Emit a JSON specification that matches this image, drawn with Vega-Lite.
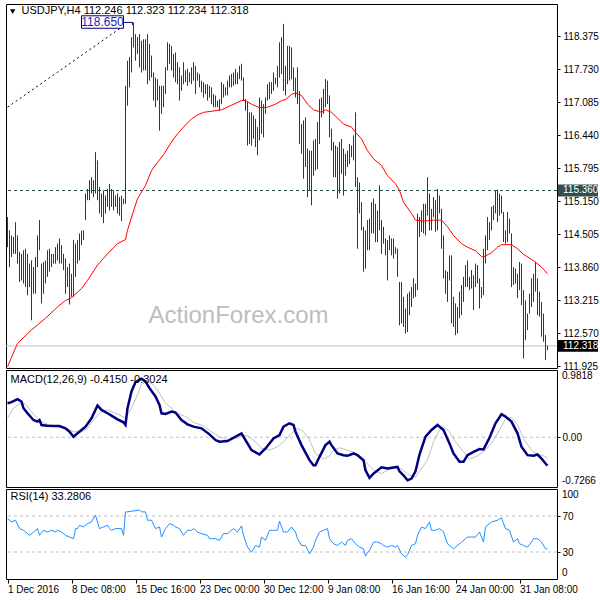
{
"$schema": "https://vega.github.io/schema/vega-lite/v6.json",
"background": "white",
"padding": {"left": 2, "top": 3, "right": 5, "bottom": 3},
"spacing": 2,
"bounds": "flush",
"config": {
  "view": {"stroke": "#000000", "strokeWidth": 1},
  "axis": {"labelFont": "Liberation Sans", "labelFontSize": 10, "labelColor": "#000000", "tickColor": "#000000", "domain": false, "grid": false, "labelOverlap": false, "labelBound": false, "labelFlush": false, "tickSize": 3, "labelPadding": 3, "labelSeparation": 0},
  "text": {"font": "Liberation Sans"}
},
"resolve": {"scale": {"x": "independent", "y": "independent"}},
"datasets": {
  "bars": [{"i":0,"h":114.84,"l":114.25},{"i":1,"h":114.58,"l":113.86},{"i":2,"h":114.48,"l":114.06},{"i":3,"h":114.45,"l":114.12},{"i":4,"h":114.74,"l":114.12},{"i":5,"h":114.48,"l":113.93},{"i":6,"h":114.16,"l":113.57},{"i":7,"h":114.12,"l":113.60},{"i":8,"h":114.19,"l":113.54},{"i":9,"h":114.22,"l":113.47},{"i":10,"h":114.12,"l":113.31},{"i":11,"h":113.93,"l":113.47},{"i":12,"h":113.99,"l":112.82},{"i":13,"h":113.86,"l":113.34},{"i":14,"h":114.06,"l":113.34},{"i":15,"h":114.48,"l":113.86},{"i":16,"h":114.78,"l":114.19},{"i":17,"h":113.93,"l":113.15},{"i":18,"h":113.96,"l":113.34},{"i":19,"h":113.99,"l":113.54},{"i":20,"h":114.19,"l":113.67},{"i":21,"h":114.22,"l":113.77},{"i":22,"h":114.12,"l":113.86},{"i":23,"h":114.12,"l":113.93},{"i":24,"h":114.25,"l":113.93},{"i":25,"h":114.32,"l":113.99},{"i":26,"h":114.42,"l":113.93},{"i":27,"h":114.29,"l":113.93},{"i":28,"h":114.12,"l":113.80},{"i":29,"h":114.03,"l":113.34},{"i":30,"h":113.86,"l":113.47},{"i":31,"h":113.93,"l":113.13},{"i":32,"h":113.73,"l":113.28},{"i":33,"h":114.39,"l":113.28},{"i":34,"h":114.32,"l":113.67},{"i":35,"h":114.39,"l":113.93},{"i":36,"h":114.52,"l":113.99},{"i":37,"h":114.58,"l":114.29},{"i":38,"h":114.58,"l":114.39},{"i":39,"h":115.30,"l":114.78},{"i":40,"h":115.39,"l":115.17},{"i":41,"h":115.56,"l":115.17},{"i":42,"h":115.62,"l":115.30},{"i":43,"h":115.56,"l":115.23},{"i":44,"h":116.11,"l":115.30},{"i":45,"h":115.95,"l":115.17},{"i":46,"h":115.43,"l":114.91},{"i":47,"h":115.30,"l":114.84},{"i":48,"h":115.36,"l":114.72},{"i":49,"h":115.26,"l":114.91},{"i":50,"h":115.39,"l":115.04},{"i":51,"h":115.49,"l":114.97},{"i":52,"h":115.39,"l":115.04},{"i":53,"h":115.36,"l":114.97},{"i":54,"h":115.26,"l":115.04},{"i":55,"h":115.30,"l":114.91},{"i":56,"h":115.23,"l":114.87},{"i":57,"h":115.26,"l":114.76},{"i":58,"h":115.20,"l":115.09},{"i":59,"h":117.41,"l":115.10},{"i":60,"h":117.90,"l":117.02},{"i":61,"h":117.97,"l":117.38},{"i":62,"h":118.36,"l":117.67},{"i":63,"h":118.65,"l":118.16},{"i":64,"h":118.42,"l":117.90},{"i":65,"h":118.36,"l":118.03},{"i":66,"h":118.42,"l":117.77},{"i":67,"h":118.29,"l":117.67},{"i":68,"h":118.32,"l":117.71},{"i":69,"h":118.32,"l":117.71},{"i":70,"h":118.42,"l":117.44},{"i":71,"h":118.23,"l":117.51},{"i":72,"h":118.00,"l":117.57},{"i":73,"h":117.67,"l":117.12},{"i":74,"h":117.57,"l":116.99},{"i":75,"h":117.54,"l":117.12},{"i":76,"h":117.41,"l":116.53},{"i":77,"h":117.41,"l":116.86},{"i":78,"h":117.41,"l":116.99},{"i":79,"h":117.77,"l":117.25},{"i":80,"h":118.26,"l":117.71},{"i":81,"h":118.23,"l":117.84},{"i":82,"h":118.19,"l":117.71},{"i":83,"h":118.03,"l":117.57},{"i":84,"h":118.06,"l":117.48},{"i":85,"h":117.87,"l":117.44},{"i":86,"h":117.77,"l":117.12},{"i":87,"h":117.61,"l":117.31},{"i":88,"h":117.87,"l":117.44},{"i":89,"h":117.71,"l":117.48},{"i":90,"h":117.74,"l":117.41},{"i":91,"h":117.67,"l":117.48},{"i":92,"h":117.77,"l":117.44},{"i":93,"h":117.87,"l":117.51},{"i":94,"h":117.80,"l":117.25},{"i":95,"h":117.67,"l":117.51},{"i":96,"h":117.64,"l":117.38},{"i":97,"h":117.51,"l":117.28},{"i":98,"h":117.48,"l":117.18},{"i":99,"h":117.44,"l":117.25},{"i":100,"h":117.44,"l":117.12},{"i":101,"h":117.41,"l":117.18},{"i":102,"h":117.38,"l":117.05},{"i":103,"h":117.25,"l":116.99},{"i":104,"h":117.22,"l":116.99},{"i":105,"h":117.12,"l":116.99},{"i":106,"h":117.15,"l":116.92},{"i":107,"h":117.48,"l":117.05},{"i":108,"h":117.44,"l":117.18},{"i":109,"h":117.38,"l":117.22},{"i":110,"h":117.51,"l":117.22},{"i":111,"h":117.61,"l":117.38},{"i":112,"h":117.64,"l":117.38},{"i":113,"h":117.67,"l":117.41},{"i":114,"h":117.74,"l":117.44},{"i":115,"h":117.67,"l":117.44},{"i":116,"h":117.80,"l":117.54},{"i":117,"h":117.84,"l":117.51},{"i":118,"h":117.57,"l":117.12},{"i":119,"h":117.15,"l":116.92},{"i":120,"h":117.09,"l":116.24},{"i":121,"h":116.89,"l":116.27},{"i":122,"h":116.89,"l":116.24},{"i":123,"h":116.83,"l":116.37},{"i":124,"h":116.76,"l":116.21},{"i":125,"h":116.60,"l":116.05},{"i":126,"h":117.18,"l":116.34},{"i":127,"h":117.12,"l":116.47},{"i":128,"h":117.05,"l":116.40},{"i":129,"h":117.18,"l":116.86},{"i":130,"h":117.44,"l":117.12},{"i":131,"h":117.48,"l":117.15},{"i":132,"h":117.48,"l":117.25},{"i":133,"h":117.67,"l":117.31},{"i":134,"h":117.57,"l":117.44},{"i":135,"h":117.80,"l":117.38},{"i":136,"h":118.26,"l":117.57},{"i":137,"h":118.36,"l":117.64},{"i":138,"h":118.62,"l":117.31},{"i":139,"h":117.80,"l":117.22},{"i":140,"h":118.19,"l":117.44},{"i":141,"h":118.19,"l":117.51},{"i":142,"h":118.16,"l":117.54},{"i":143,"h":117.77,"l":117.31},{"i":144,"h":117.57,"l":117.18},{"i":145,"h":117.77,"l":117.05},{"i":146,"h":117.31,"l":116.27},{"i":147,"h":116.66,"l":116.08},{"i":148,"h":116.73,"l":115.59},{"i":149,"h":116.79,"l":115.82},{"i":150,"h":116.18,"l":115.23},{"i":151,"h":116.14,"l":115.36},{"i":152,"h":116.14,"l":115.07},{"i":153,"h":116.34,"l":115.65},{"i":154,"h":116.37,"l":115.75},{"i":155,"h":116.70,"l":115.78},{"i":156,"h":117.15,"l":116.27},{"i":157,"h":117.18,"l":116.79},{"i":158,"h":117.35,"l":116.86},{"i":159,"h":117.54,"l":116.99},{"i":160,"h":117.51,"l":117.05},{"i":161,"h":117.22,"l":116.40},{"i":162,"h":116.57,"l":116.14},{"i":163,"h":116.31,"l":115.62},{"i":164,"h":116.24,"l":115.62},{"i":165,"h":116.21,"l":115.20},{"i":166,"h":116.31,"l":115.30},{"i":167,"h":116.37,"l":115.69},{"i":168,"h":116.18,"l":115.26},{"i":169,"h":116.08,"l":115.65},{"i":170,"h":116.14,"l":115.82},{"i":171,"h":116.27,"l":115.88},{"i":172,"h":116.24,"l":116.01},{"i":173,"h":116.44,"l":115.95},{"i":174,"h":116.89,"l":115.43},{"i":175,"h":115.62,"l":114.22},{"i":176,"h":115.52,"l":114.91},{"i":177,"h":115.13,"l":114.58},{"i":178,"h":114.65,"l":113.77},{"i":179,"h":114.58,"l":113.83},{"i":180,"h":114.78,"l":114.19},{"i":181,"h":114.81,"l":114.19},{"i":182,"h":115.13,"l":114.52},{"i":183,"h":115.20,"l":114.52},{"i":184,"h":115.10,"l":114.35},{"i":185,"h":114.97,"l":114.35},{"i":186,"h":115.46,"l":114.58},{"i":187,"h":114.78,"l":114.12},{"i":188,"h":114.65,"l":114.32},{"i":189,"h":114.42,"l":114.09},{"i":190,"h":114.39,"l":113.60},{"i":191,"h":114.48,"l":114.19},{"i":192,"h":114.42,"l":114.09},{"i":193,"h":114.42,"l":114.03},{"i":194,"h":114.25,"l":114.12},{"i":195,"h":114.22,"l":113.67},{"i":196,"h":113.57,"l":112.72},{"i":197,"h":113.57,"l":112.76},{"i":198,"h":113.28,"l":112.69},{"i":199,"h":113.05,"l":112.56},{"i":200,"h":113.34,"l":112.59},{"i":201,"h":113.38,"l":112.92},{"i":202,"h":113.47,"l":113.08},{"i":203,"h":113.64,"l":113.25},{"i":204,"h":113.54,"l":113.28},{"i":205,"h":114.91,"l":113.41},{"i":206,"h":114.84,"l":114.45},{"i":207,"h":114.97,"l":114.55},{"i":208,"h":115.10,"l":114.52},{"i":209,"h":115.10,"l":114.48},{"i":210,"h":115.62,"l":114.87},{"i":211,"h":115.30,"l":114.58},{"i":212,"h":115.00,"l":114.58},{"i":213,"h":115.23,"l":114.84},{"i":214,"h":115.17,"l":114.55},{"i":215,"h":115.39,"l":114.58},{"i":216,"h":115.26,"l":114.91},{"i":217,"h":115.00,"l":114.22},{"i":218,"h":114.48,"l":113.64},{"i":219,"h":113.80,"l":113.34},{"i":220,"h":113.77,"l":113.18},{"i":221,"h":114.09,"l":113.60},{"i":222,"h":114.09,"l":112.76},{"i":223,"h":113.28,"l":112.69},{"i":224,"h":113.15,"l":112.53},{"i":225,"h":113.08,"l":112.56},{"i":226,"h":113.38,"l":112.86},{"i":227,"h":113.51,"l":112.92},{"i":228,"h":113.67,"l":113.18},{"i":229,"h":113.90,"l":113.47},{"i":230,"h":113.99,"l":113.47},{"i":231,"h":113.67,"l":113.41},{"i":232,"h":113.80,"l":113.44},{"i":233,"h":113.70,"l":113.02},{"i":234,"h":113.93,"l":113.47},{"i":235,"h":113.90,"l":113.54},{"i":236,"h":113.64,"l":113.05},{"i":237,"h":113.47,"l":113.25},{"i":238,"h":114.22,"l":113.31},{"i":239,"h":114.48,"l":113.93},{"i":240,"h":114.84,"l":114.19},{"i":241,"h":114.74,"l":114.39},{"i":242,"h":115.04,"l":114.58},{"i":243,"h":115.07,"l":114.78},{"i":244,"h":115.36,"l":114.91},{"i":245,"h":115.38,"l":114.74},{"i":246,"h":115.30,"l":114.87},{"i":247,"h":115.26,"l":114.91},{"i":248,"h":114.94,"l":114.35},{"i":249,"h":114.58,"l":114.32},{"i":250,"h":114.94,"l":114.35},{"i":251,"h":114.81,"l":114.52},{"i":252,"h":114.52,"l":113.47},{"i":253,"h":113.86,"l":113.51},{"i":254,"h":113.83,"l":113.54},{"i":255,"h":113.73,"l":113.25},{"i":256,"h":113.96,"l":113.41},{"i":257,"h":113.93,"l":113.12},{"i":258,"h":113.41,"l":112.07},{"i":259,"h":113.21,"l":112.43},{"i":260,"h":112.95,"l":112.63},{"i":261,"h":113.34,"l":112.95},{"i":262,"h":113.64,"l":113.08},{"i":263,"h":113.73,"l":113.18},{"i":264,"h":113.96,"l":113.38},{"i":265,"h":113.64,"l":112.92},{"i":266,"h":113.38,"l":112.89},{"i":267,"h":113.18,"l":112.50},{"i":268,"h":112.95,"l":112.40},{"i":269,"h":112.53,"l":112.04},{"i":270,"h":112.323,"l":112.234}],
  "ma": [{"i":0,"v":111.91},{"i":5,"v":112.37},{"i":12,"v":112.63},{"i":19,"v":112.86},{"i":25,"v":113.08},{"i":29,"v":113.21},{"i":32,"v":113.26},{"i":37,"v":113.44},{"i":40,"v":113.60},{"i":45,"v":113.90},{"i":50,"v":114.12},{"i":55,"v":114.32},{"i":59,"v":114.40},{"i":60,"v":114.58},{"i":62,"v":114.84},{"i":65,"v":115.20},{"i":69,"v":115.46},{"i":72,"v":115.75},{"i":75,"v":115.91},{"i":78,"v":116.06},{"i":82,"v":116.31},{"i":85,"v":116.47},{"i":88,"v":116.60},{"i":92,"v":116.76},{"i":95,"v":116.84},{"i":98,"v":116.89},{"i":102,"v":116.91},{"i":107,"v":116.94},{"i":112,"v":117.03},{"i":117,"v":117.12},{"i":119,"v":117.12},{"i":122,"v":117.05},{"i":126,"v":116.98},{"i":130,"v":116.99},{"i":134,"v":117.05},{"i":137,"v":117.12},{"i":139,"v":117.14},{"i":142,"v":117.24},{"i":144,"v":117.27},{"i":147,"v":117.22},{"i":150,"v":117.05},{"i":153,"v":116.94},{"i":157,"v":116.89},{"i":159,"v":116.94},{"i":162,"v":116.89},{"i":165,"v":116.78},{"i":168,"v":116.66},{"i":172,"v":116.60},{"i":174,"v":116.50},{"i":177,"v":116.37},{"i":180,"v":116.14},{"i":183,"v":115.98},{"i":187,"v":115.85},{"i":190,"v":115.65},{"i":194,"v":115.49},{"i":196,"v":115.36},{"i":198,"v":115.13},{"i":202,"v":114.91},{"i":204,"v":114.78},{"i":208,"v":114.76},{"i":213,"v":114.78},{"i":217,"v":114.78},{"i":220,"v":114.65},{"i":223,"v":114.48},{"i":227,"v":114.32},{"i":230,"v":114.25},{"i":234,"v":114.18},{"i":237,"v":114.07},{"i":238,"v":114.06},{"i":242,"v":114.14},{"i":245,"v":114.25},{"i":247,"v":114.30},{"i":252,"v":114.30},{"i":255,"v":114.22},{"i":258,"v":114.11},{"i":262,"v":114.01},{"i":264,"v":113.96},{"i":267,"v":113.86},{"i":270,"v":113.73}],
  "trend": [{"i":0,"p":116.99},{"i":58,"p":118.58}],
  "levels": [{"p":112.318,"kind":"last","label":"112.318"},{"p":115.36,"kind":"sr","label":"115.360"}],
  "macd": [{"i":0,"m":0.497},{"i":2,"m":0.512},{"i":5,"m":0.556},{"i":7,"m":0.522},{"i":8,"m":0.424},{"i":10,"m":0.350},{"i":13,"m":0.252},{"i":15,"m":0.228},{"i":16,"m":0.252},{"i":17,"m":0.179},{"i":20,"m":0.169},{"i":24,"m":0.164},{"i":26,"m":0.164},{"i":29,"m":0.130},{"i":31,"m":0.081},{"i":33,"m":0.008},{"i":34,"m":0.032},{"i":37,"m":0.106},{"i":39,"m":0.155},{"i":42,"m":0.277},{"i":45,"m":0.463},{"i":47,"m":0.399},{"i":50,"m":0.350},{"i":52,"m":0.316},{"i":55,"m":0.262},{"i":58,"m":0.218},{"i":59,"m":0.179},{"i":60,"m":0.424},{"i":62,"m":0.669},{"i":64,"m":0.806},{"i":67,"m":0.855},{"i":69,"m":0.815},{"i":71,"m":0.717},{"i":74,"m":0.595},{"i":76,"m":0.473},{"i":77,"m":0.350},{"i":79,"m":0.341},{"i":82,"m":0.375},{"i":84,"m":0.360},{"i":87,"m":0.252},{"i":90,"m":0.189},{"i":93,"m":0.155},{"i":97,"m":0.130},{"i":101,"m":0.042},{"i":104,"m":-0.041},{"i":106,"m":-0.066},{"i":110,"m":-0.056},{"i":113,"m":-0.007},{"i":117,"m":0.057},{"i":119,"m":-0.041},{"i":122,"m":-0.188},{"i":126,"m":-0.252},{"i":129,"m":-0.164},{"i":133,"m":-0.017},{"i":136,"m":0.032},{"i":138,"m":0.155},{"i":141,"m":0.204},{"i":143,"m":0.179},{"i":144,"m":0.081},{"i":147,"m":-0.115},{"i":151,"m":-0.335},{"i":153,"m":-0.408},{"i":154,"m":-0.408},{"i":156,"m":-0.286},{"i":159,"m":-0.115},{"i":161,"m":-0.066},{"i":162,"m":-0.115},{"i":165,"m":-0.237},{"i":168,"m":-0.262},{"i":170,"m":-0.271},{"i":173,"m":-0.237},{"i":175,"m":-0.262},{"i":178,"m":-0.335},{"i":179,"m":-0.482},{"i":181,"m":-0.594},{"i":183,"m":-0.531},{"i":187,"m":-0.438},{"i":190,"m":-0.457},{"i":193,"m":-0.443},{"i":195,"m":-0.433},{"i":196,"m":-0.497},{"i":198,"m":-0.555},{"i":200,"m":-0.629},{"i":202,"m":-0.604},{"i":204,"m":-0.497},{"i":206,"m":-0.252},{"i":209,"m":0.008},{"i":212,"m":0.106},{"i":215,"m":0.179},{"i":218,"m":0.106},{"i":221,"m":-0.090},{"i":223,"m":-0.237},{"i":226,"m":-0.359},{"i":228,"m":-0.359},{"i":230,"m":-0.262},{"i":233,"m":-0.213},{"i":236,"m":-0.173},{"i":238,"m":-0.178},{"i":241,"m":-0.007},{"i":244,"m":0.204},{"i":247,"m":0.336},{"i":249,"m":0.302},{"i":252,"m":0.228},{"i":255,"m":0.057},{"i":257,"m":-0.139},{"i":260,"m":-0.262},{"i":263,"m":-0.271},{"i":265,"m":-0.252},{"i":267,"m":-0.311},{"i":269,"m":-0.384},{"i":270,"m":-0.415}],
  "sig": [{"i":0,"s":0.277},{"i":3,"s":0.424},{"i":7,"s":0.512},{"i":9,"s":0.483},{"i":12,"s":0.375},{"i":16,"s":0.238},{"i":20,"s":0.189},{"i":25,"s":0.155},{"i":30,"s":0.120},{"i":33,"s":0.081},{"i":37,"s":0.081},{"i":40,"s":0.130},{"i":43,"s":0.252},{"i":47,"s":0.375},{"i":50,"s":0.399},{"i":53,"s":0.360},{"i":56,"s":0.326},{"i":59,"s":0.277},{"i":62,"s":0.424},{"i":65,"s":0.620},{"i":67,"s":0.776},{"i":70,"s":0.815},{"i":73,"s":0.766},{"i":76,"s":0.644},{"i":79,"s":0.497},{"i":82,"s":0.424},{"i":85,"s":0.350},{"i":89,"s":0.301},{"i":93,"s":0.218},{"i":98,"s":0.164},{"i":102,"s":0.081},{"i":106,"s":0.008},{"i":110,"s":-0.041},{"i":114,"s":-0.017},{"i":118,"s":0.022},{"i":120,"s":0.022},{"i":124,"s":-0.066},{"i":127,"s":-0.164},{"i":131,"s":-0.188},{"i":135,"s":-0.139},{"i":138,"s":-0.066},{"i":142,"s":0.057},{"i":145,"s":0.130},{"i":148,"s":0.081},{"i":151,"s":-0.041},{"i":154,"s":-0.237},{"i":158,"s":-0.320},{"i":161,"s":-0.271},{"i":163,"s":-0.188},{"i":166,"s":-0.154},{"i":170,"s":-0.188},{"i":173,"s":-0.222},{"i":176,"s":-0.271},{"i":179,"s":-0.359},{"i":183,"s":-0.482},{"i":187,"s":-0.531},{"i":190,"s":-0.482},{"i":194,"s":-0.443},{"i":197,"s":-0.467},{"i":201,"s":-0.555},{"i":204,"s":-0.580},{"i":206,"s":-0.497},{"i":210,"s":-0.335},{"i":213,"s":-0.066},{"i":216,"s":0.106},{"i":218,"s":0.155},{"i":221,"s":0.081},{"i":224,"s":-0.066},{"i":228,"s":-0.213},{"i":231,"s":-0.320},{"i":235,"s":-0.271},{"i":238,"s":-0.213},{"i":242,"s":-0.090},{"i":246,"s":0.106},{"i":249,"s":0.267},{"i":252,"s":0.287},{"i":255,"s":0.179},{"i":258,"s":-0.017},{"i":262,"s":-0.188},{"i":265,"s":-0.252},{"i":268,"s":-0.271},{"i":270,"s":-0.302}],
  "rsi": [{"i":0,"r":67.2},{"i":2,"r":63.4},{"i":4,"r":65.3},{"i":6,"r":56.0},{"i":8,"r":54.1},{"i":9,"r":52.2},{"i":11,"r":48.5},{"i":13,"r":52.2},{"i":15,"r":56.0},{"i":16,"r":48.5},{"i":18,"r":54.1},{"i":20,"r":52.2},{"i":22,"r":54.1},{"i":24,"r":52.2},{"i":25,"r":54.1},{"i":27,"r":52.2},{"i":29,"r":48.5},{"i":31,"r":46.6},{"i":33,"r":44.8},{"i":34,"r":56.0},{"i":35,"r":56.0},{"i":36,"r":59.7},{"i":38,"r":57.8},{"i":40,"r":61.6},{"i":42,"r":63.4},{"i":44,"r":70.9},{"i":46,"r":56.0},{"i":48,"r":57.8},{"i":50,"r":59.7},{"i":51,"r":56.0},{"i":52,"r":54.1},{"i":54,"r":56.0},{"i":57,"r":56.0},{"i":58,"r":48.5},{"i":59,"r":74.6},{"i":60,"r":74.6},{"i":63,"r":75.7},{"i":66,"r":76.5},{"i":67,"r":74.6},{"i":69,"r":74.6},{"i":70,"r":65.3},{"i":72,"r":65.3},{"i":74,"r":56.0},{"i":76,"r":57.8},{"i":77,"r":46.6},{"i":79,"r":56.0},{"i":81,"r":61.6},{"i":83,"r":59.7},{"i":84,"r":57.8},{"i":86,"r":56.0},{"i":88,"r":48.5},{"i":90,"r":54.1},{"i":92,"r":54.1},{"i":93,"r":56.0},{"i":95,"r":52.2},{"i":97,"r":50.4},{"i":100,"r":48.5},{"i":101,"r":44.8},{"i":104,"r":44.8},{"i":106,"r":42.9},{"i":108,"r":50.4},{"i":110,"r":50.4},{"i":111,"r":52.2},{"i":113,"r":56.0},{"i":115,"r":52.2},{"i":117,"r":59.0},{"i":118,"r":48.5},{"i":120,"r":35.4},{"i":122,"r":29.8},{"i":124,"r":37.3},{"i":126,"r":35.4},{"i":127,"r":46.6},{"i":129,"r":42.9},{"i":131,"r":54.1},{"i":133,"r":54.1},{"i":135,"r":54.1},{"i":136,"r":64.2},{"i":138,"r":52.2},{"i":140,"r":52.2},{"i":142,"r":57.8},{"i":144,"r":52.2},{"i":145,"r":44.8},{"i":147,"r":37.3},{"i":149,"r":37.3},{"i":151,"r":28.0},{"i":153,"r":35.4},{"i":154,"r":42.9},{"i":156,"r":52.2},{"i":158,"r":54.1},{"i":160,"r":56.0},{"i":161,"r":44.8},{"i":163,"r":39.2},{"i":165,"r":37.3},{"i":167,"r":41.0},{"i":169,"r":37.3},{"i":170,"r":42.9},{"i":172,"r":44.8},{"i":174,"r":39.2},{"i":176,"r":35.4},{"i":178,"r":33.6},{"i":179,"r":25.4},{"i":180,"r":29.8},{"i":181,"r":31.7},{"i":183,"r":41.0},{"i":185,"r":41.0},{"i":187,"r":39.2},{"i":188,"r":37.3},{"i":190,"r":35.4},{"i":192,"r":37.3},{"i":194,"r":35.4},{"i":195,"r":37.3},{"i":197,"r":28.0},{"i":199,"r":24.3},{"i":200,"r":26.9},{"i":202,"r":37.3},{"i":204,"r":39.2},{"i":205,"r":48.5},{"i":207,"r":57.8},{"i":209,"r":56.0},{"i":211,"r":63.4},{"i":212,"r":54.1},{"i":214,"r":54.1},{"i":216,"r":56.0},{"i":218,"r":52.2},{"i":220,"r":39.2},{"i":221,"r":37.3},{"i":223,"r":33.6},{"i":225,"r":37.3},{"i":227,"r":41.0},{"i":229,"r":44.8},{"i":230,"r":46.6},{"i":232,"r":46.6},{"i":234,"r":46.6},{"i":236,"r":52.2},{"i":238,"r":41.0},{"i":239,"r":57.8},{"i":242,"r":63.4},{"i":245,"r":65.3},{"i":247,"r":67.9},{"i":249,"r":56.0},{"i":251,"r":54.1},{"i":253,"r":41.0},{"i":255,"r":44.8},{"i":256,"r":39.2},{"i":258,"r":37.3},{"i":260,"r":35.4},{"i":262,"r":41.0},{"i":263,"r":44.8},{"i":265,"r":44.8},{"i":267,"r":41.0},{"i":269,"r":33.6},{"i":270,"r":33.28}]
},
"vconcat": [
{
  "width": 551, "height": 364,
  "layer": [
    {"data": {"values": [{"t": "ActionForex.com"}]}, "mark": {"type": "text", "font": "Liberation Sans", "fontSize": 24, "color": "#bdbdbd"},
     "encoding": {"x": {"datum": 115.5, "type": "quantitative", "scale": {"domain": [-0.75, 274.75], "nice": false, "zero": false}, "axis": null},
                  "y": {"datum": 112.9, "type": "quantitative", "scale": {"domain": [111.886, 119.01], "nice": false, "zero": false}, "axis": {"orient": "right", "title": null, "values": [111.925, 112.57, 113.215, 113.86, 114.505, 115.15, 115.795, 116.44, 117.085, 117.73, 118.375], "format": ".3f", "labelOverlap": false}},
                  "text": {"field": "t"}}},
    {"data": {"name": "levels"}, "transform": [{"filter": "datum.kind == 'last'"}], "mark": {"type": "rule", "color": "#c0c0c0", "strokeWidth": 1},
     "encoding": {"y": {"field": "p", "type": "quantitative", "scale": {"domain": [111.886, 119.01], "nice": false, "zero": false}, "axis": {"orient": "right", "title": null, "values": [111.925, 112.57, 113.215, 113.86, 114.505, 115.15, 115.795, 116.44, 117.085, 117.73, 118.375], "format": ".3f", "labelOverlap": false}}}},
    {"data": {"name": "levels"}, "transform": [{"filter": "datum.kind == 'sr'"}], "mark": {"type": "rule", "color": "#2f4f4f", "strokeWidth": 1, "strokeDash": [3, 3]},
     "encoding": {"y": {"field": "p", "type": "quantitative", "scale": {"domain": [111.886, 119.01], "nice": false, "zero": false}, "axis": {"orient": "right", "title": null, "values": [111.925, 112.57, 113.215, 113.86, 114.505, 115.15, 115.795, 116.44, 117.085, 117.73, 118.375], "format": ".3f", "labelOverlap": false}}}},
    {"data": {"name": "bars"}, "mark": {"type": "rule", "color": "#1c3d5a", "strokeWidth": 1},
     "encoding": {"x": {"field": "i", "type": "quantitative", "scale": {"domain": [-0.75, 274.75], "nice": false, "zero": false}, "axis": null},
                  "y": {"field": "h", "type": "quantitative", "scale": {"domain": [111.886, 119.01], "nice": false, "zero": false},
                        "axis": {"orient": "right", "title": null, "values": [111.925, 112.57, 113.215, 113.86, 114.505, 115.15, 115.795, 116.44, 117.085, 117.73, 118.375], "format": ".3f", "labelOverlap": false}},
                  "y2": {"field": "l"}}},
    {"data": {"name": "ma"}, "mark": {"type": "line", "color": "#ff0000", "strokeWidth": 1},
     "encoding": {"x": {"field": "i", "type": "quantitative", "scale": {"domain": [-0.75, 274.75], "nice": false, "zero": false}, "axis": null},
                  "y": {"field": "v", "type": "quantitative", "scale": {"domain": [111.886, 119.01], "nice": false, "zero": false}, "axis": {"orient": "right", "title": null, "values": [111.925, 112.57, 113.215, 113.86, 114.505, 115.15, 115.795, 116.44, 117.085, 117.73, 118.375], "format": ".3f", "labelOverlap": false}}}},
    {"data": {"name": "trend"}, "mark": {"type": "line", "color": "#000000", "strokeWidth": 1, "strokeDash": [2, 3]},
     "encoding": {"x": {"field": "i", "type": "quantitative", "scale": {"domain": [-0.75, 274.75], "nice": false, "zero": false}, "axis": null},
                  "y": {"field": "p", "type": "quantitative", "scale": {"domain": [111.886, 119.01], "nice": false, "zero": false}, "axis": {"orient": "right", "title": null, "values": [111.925, 112.57, 113.215, 113.86, 114.505, 115.15, 115.795, 116.44, 117.085, 117.73, 118.375], "format": ".3f", "labelOverlap": false}}}},
    {"data": {"values": [{"i": 63, "p": 118.65, "t": "118.650"}]}, "mark": {"type": "point", "filled": true, "fill": "#ffffff", "stroke": "#000080", "strokeWidth": 1, "opacity": 1, "size": 10816,
              "shape": "M-1,-0.127 L-0.192,-0.127 L-0.192,0.113 L-1,0.113 Z M-0.192,0 L-0.02,0 L-0.02,0.05"},
     "encoding": {"x": {"field": "i", "type": "quantitative", "scale": {"domain": [-0.75, 274.75], "nice": false, "zero": false}, "axis": null},
                  "y": {"field": "p", "type": "quantitative", "scale": {"domain": [111.886, 119.01], "nice": false, "zero": false}, "axis": {"orient": "right", "title": null, "values": [111.925, 112.57, 113.215, 113.86, 114.505, 115.15, 115.795, 116.44, 117.085, 117.73, 118.375], "format": ".3f", "labelOverlap": false}}}},
    {"data": {"values": [{"i": 63, "p": 118.65, "t": "118.650"}]}, "mark": {"type": "text", "fontSize": 12, "font": "Liberation Sans", "color": "#1d1db4", "dx": -31, "dy": -0.5, "align": "center", "baseline": "middle"},
     "encoding": {"x": {"field": "i", "type": "quantitative", "scale": {"domain": [-0.75, 274.75], "nice": false, "zero": false}, "axis": null},
                  "y": {"field": "p", "type": "quantitative", "scale": {"domain": [111.886, 119.01], "nice": false, "zero": false}, "axis": {"orient": "right", "title": null, "values": [111.925, 112.57, 113.215, 113.86, 114.505, 115.15, 115.795, 116.44, 117.085, 117.73, 118.375], "format": ".3f", "labelOverlap": false}},
                  "text": {"field": "t"}}},
    {"data": {"values": [{"t": "USDJPY,H4  112.246 112.323 112.234 112.318"}]}, "mark": {"type": "point", "shape": "triangle-down", "filled": true, "color": "#000000", "opacity": 1, "size": 28},
     "encoding": {"x": {"datum": 2.6, "type": "quantitative", "scale": {"domain": [-0.75, 274.75], "nice": false, "zero": false}, "axis": null},
                  "y": {"datum": 118.86, "type": "quantitative", "scale": {"domain": [111.886, 119.01], "nice": false, "zero": false}, "axis": {"orient": "right", "title": null, "values": [111.925, 112.57, 113.215, 113.86, 114.505, 115.15, 115.795, 116.44, 117.085, 117.73, 118.375], "format": ".3f", "labelOverlap": false}}}},
    {"data": {"values": [{"t": "USDJPY,H4  112.246 112.323 112.234 112.318"}]}, "mark": {"type": "text", "fontSize": 11, "color": "#000000", "align": "left", "baseline": "middle"},
     "encoding": {"x": {"datum": 7.0, "type": "quantitative", "scale": {"domain": [-0.75, 274.75], "nice": false, "zero": false}, "axis": null},
                  "y": {"datum": 118.87, "type": "quantitative", "scale": {"domain": [111.886, 119.01], "nice": false, "zero": false}, "axis": {"orient": "right", "title": null, "values": [111.925, 112.57, 113.215, 113.86, 114.505, 115.15, 115.795, 116.44, 117.085, 117.73, 118.375], "format": ".3f", "labelOverlap": false}},
                  "text": {"field": "t"}}},
    {"data": {"name": "levels"}, "mark": {"type": "point", "filled": true, "strokeWidth": 0, "opacity": 1, "size": 7056,
              "shape": "M0.024,-0.14 L0.976,-0.14 L0.976,0.14 L0.024,0.14 Z"},
     "encoding": {"x": {"datum": 274.75, "type": "quantitative", "scale": {"domain": [-0.75, 274.75], "nice": false, "zero": false}, "axis": null},
                  "y": {"field": "p", "type": "quantitative", "scale": {"domain": [111.886, 119.01], "nice": false, "zero": false}, "axis": {"orient": "right", "title": null, "values": [111.925, 112.57, 113.215, 113.86, 114.505, 115.15, 115.795, 116.44, 117.085, 117.73, 118.375], "format": ".3f", "labelOverlap": false}},
                  "color": {"field": "kind", "type": "nominal", "scale": {"domain": ["last", "sr"], "range": ["#000000", "#2f4f4f"]}, "legend": null}}},
    {"data": {"name": "levels"}, "mark": {"type": "text", "fontSize": 10, "color": "#ffffff", "align": "left", "baseline": "middle", "dx": 6},
     "encoding": {"x": {"datum": 274.75, "type": "quantitative", "scale": {"domain": [-0.75, 274.75], "nice": false, "zero": false}, "axis": null},
                  "y": {"field": "p", "type": "quantitative", "scale": {"domain": [111.886, 119.01], "nice": false, "zero": false}, "axis": {"orient": "right", "title": null, "values": [111.925, 112.57, 113.215, 113.86, 114.505, 115.15, 115.795, 116.44, 117.085, 117.73, 118.375], "format": ".3f", "labelOverlap": false}},
                  "text": {"field": "label"}}}
  ]
},
{
  "width": 551, "height": 117,
  "layer": [
    {"data": {"values": [{"z": 0}]}, "mark": {"type": "rule", "color": "#c0c0c0", "strokeWidth": 1, "strokeDash": [3, 3]},
     "encoding": {"y": {"field": "z", "type": "quantitative", "scale": {"domain": [-0.7266, 0.9818], "nice": false, "zero": false}}}},
    {"data": {"name": "sig"}, "mark": {"type": "line", "color": "#c0c0c0", "strokeWidth": 1},
     "encoding": {"x": {"field": "i", "type": "quantitative", "scale": {"domain": [-0.75, 274.75], "nice": false, "zero": false}, "axis": null},
                  "y": {"field": "s", "type": "quantitative", "scale": {"domain": [-0.7266, 0.9818], "nice": false, "zero": false}}}},
    {"data": {"name": "macd"}, "mark": {"type": "line", "color": "#000080", "strokeWidth": 2.5},
     "encoding": {"x": {"field": "i", "type": "quantitative", "scale": {"domain": [-0.75, 274.75], "nice": false, "zero": false}, "axis": null},
                  "y": {"field": "m", "type": "quantitative", "scale": {"domain": [-0.7266, 0.9818], "nice": false, "zero": false},
                        "axis": {"orient": "right", "title": null, "values": [0], "format": ".2f", "labelPadding": 2}}}},
    {"data": {"values": [{"v": 0.9818, "t": "0.9818"}]}, "mark": {"type": "text", "fontSize": 10, "color": "#000000", "align": "left", "baseline": "top", "dx": 5, "dy": 1},
     "encoding": {"x": {"datum": 274.75, "type": "quantitative", "scale": {"domain": [-0.75, 274.75], "nice": false, "zero": false}, "axis": null},
                  "y": {"field": "v", "type": "quantitative", "scale": {"domain": [-0.7266, 0.9818], "nice": false, "zero": false}},
                  "text": {"field": "t"}}},
    {"data": {"values": [{"v": -0.7266, "t": "-0.7266"}]}, "mark": {"type": "text", "fontSize": 10, "color": "#000000", "align": "left", "baseline": "bottom", "dx": 5, "dy": -1},
     "encoding": {"x": {"datum": 274.75, "type": "quantitative", "scale": {"domain": [-0.75, 274.75], "nice": false, "zero": false}, "axis": null},
                  "y": {"field": "v", "type": "quantitative", "scale": {"domain": [-0.7266, 0.9818], "nice": false, "zero": false}},
                  "text": {"field": "t"}}},
    {"data": {"values": [{"t": "MACD(12,26,9) -0.4150 -0.3024"}]}, "mark": {"type": "text", "fontSize": 11, "color": "#000000", "align": "left", "baseline": "middle"},
     "encoding": {"x": {"datum": 1.5, "type": "quantitative", "scale": {"domain": [-0.75, 274.75], "nice": false, "zero": false}, "axis": null},
                  "y": {"datum": 0.836, "type": "quantitative", "scale": {"domain": [-0.7266, 0.9818], "nice": false, "zero": false}},
                  "text": {"field": "t"}}}
  ]
},
{
  "width": 551, "height": 90,
  "layer": [
    {"data": {"values": [{"lv": 30}, {"lv": 70}]}, "mark": {"type": "rule", "color": "#c0c0c0", "strokeWidth": 1, "strokeDash": [3, 3]},
     "encoding": {"y": {"field": "lv", "type": "quantitative", "scale": {"domain": [0, 100], "nice": false, "zero": false}}}},
    {"data": {"name": "rsi"}, "mark": {"type": "line", "color": "#1e90ff", "strokeWidth": 1},
     "encoding": {"x": {"field": "i", "type": "quantitative", "scale": {"domain": [-0.75, 274.75], "nice": false, "zero": false},
                        "axis": {"orient": "bottom", "title": null, "values": [0, 32, 64, 96, 128, 160, 192, 224, 256], "tickSize": 4, "labelPadding": 1, "labelAlign": "left",
                                 "labelExpr": "['1 Dec 2016','8 Dec 08:00','15 Dec 16:00','23 Dec 00:00','30 Dec 12:00','9 Jan 08:00','16 Jan 16:00','24 Jan 00:00','31 Jan 08:00'][round(datum.value/32)]"}},
                  "y": {"field": "r", "type": "quantitative", "scale": {"domain": [0, 100], "nice": false, "zero": false},
                        "axis": {"orient": "right", "title": null, "values": [30, 70], "labelPadding": 2}}}},
    {"data": {"values": [{"v": 100, "t": "100"}]}, "mark": {"type": "text", "fontSize": 10, "color": "#000000", "align": "left", "baseline": "top", "dx": 5, "dy": 1},
     "encoding": {"x": {"datum": 274.75, "type": "quantitative", "scale": {"domain": [-0.75, 274.75], "nice": false, "zero": false}},
                  "y": {"field": "v", "type": "quantitative", "scale": {"domain": [0, 100], "nice": false, "zero": false}},
                  "text": {"field": "t"}}},
    {"data": {"values": [{"v": 0, "t": "0"}]}, "mark": {"type": "text", "fontSize": 10, "color": "#000000", "align": "left", "baseline": "bottom", "dx": 5, "dy": -1},
     "encoding": {"x": {"datum": 274.75, "type": "quantitative", "scale": {"domain": [-0.75, 274.75], "nice": false, "zero": false}},
                  "y": {"field": "v", "type": "quantitative", "scale": {"domain": [0, 100], "nice": false, "zero": false}},
                  "text": {"field": "t"}}},
    {"data": {"values": [{"t": "RSI(14) 33.2806"}]}, "mark": {"type": "text", "fontSize": 11, "color": "#000000", "align": "left", "baseline": "middle"},
     "encoding": {"x": {"datum": 1.5, "type": "quantitative", "scale": {"domain": [-0.75, 274.75], "nice": false, "zero": false}},
                  "y": {"datum": 91, "type": "quantitative", "scale": {"domain": [0, 100], "nice": false, "zero": false}},
                  "text": {"field": "t"}}}
  ]
}
]
}
